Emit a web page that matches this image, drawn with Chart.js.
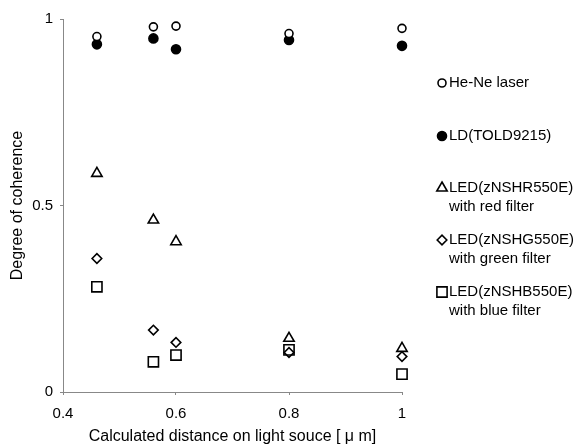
<!DOCTYPE html>
<html>
<head>
<meta charset="utf-8">
<script src="https://cdn.jsdelivr.net/npm/chart.js@4"></script>
<style>
    html, body { margin: 0; padding: 0; background: #fff; }
    #wrap { position: relative; width: 578px; height: 445px; }
</style>
</head>
<body>
<div id="wrap"><canvas id="myChart" width="578" height="445"></canvas></div>
<script>
// x positions (calculated distance on light source, um)
const distances = [0.46, 0.56, 0.6, 0.8, 1.0];

// degree of coherence for each light source
const heNe = [0.953, 0.979, 0.981, 0.961, 0.975];
const ld = [0.932, 0.948, 0.919, 0.944, 0.928];
const ledRed = [0.586, 0.461, 0.403, 0.144, 0.117];
const ledGreen = [0.358, 0.166, 0.133, 0.106, 0.095];
const ledBlue = [0.282, 0.081, 0.099, 0.113, 0.048];

const xTicks = [0.4, 0.6, 0.8, 1];
const yTicks = [0, 0.5, 1];

const legendNames = [
    ['He-Ne laser'],
    ['LD(TOLD9215)'],
    ['LED(zNSHR550E)', 'with red filter'],
    ['LED(zNSHG550E)', 'with green filter'],
    ['LED(zNSHB550E)', 'with blue filter']
];

const fontFamily = '"Liberation Sans", Arial, sans-serif';

function toPoints(values) {
    return values.map(function(v, i) {
        return { x: distances[i], y: v };
    });
}

function serie(label, values, style, radius, fill) {
    return {
        label: label,
        data: toPoints(values),
        pointStyle: style,
        pointRadius: radius,
        pointHoverRadius: radius,
        pointBorderWidth: 1.6,
        borderColor: '#000',
        backgroundColor: fill,
        showLine: false,
        clip: false
    };
}

const datasets = [
    serie(legendNames[0].join(' '), heNe, 'circle', 4, '#fff'),
    serie(legendNames[1].join(' '), ld, 'circle', 4.5, '#000'),
    serie(legendNames[2].join(' '), ledRed, 'triangle', 6, 'rgba(0,0,0,0)'),
    serie(legendNames[3].join(' '), ledGreen, 'rectRot', 4.8, 'rgba(0,0,0,0)'),
    serie(legendNames[4].join(' '), ledBlue, 'rect', 7.2, 'rgba(0,0,0,0)')
];

// legenda desenhada na lateral direita (rotulos com duas linhas)
const sideLegend = {
    id: 'sideLegend',
    afterDraw: function(chart) {
        const ctx = chart.ctx;
        const left = chart.chartArea.right + 40;
        const rows = [83, 136, 188, 240, 292];
        ctx.save();
        ctx.font = '15px ' + fontFamily;
        ctx.textBaseline = 'middle';
        chart.data.datasets.forEach(function(ds, i) {
            const y = rows[i];
            const opts = {
                pointStyle: ds.pointStyle,
                radius: ds.pointRadius,
                borderWidth: ds.pointBorderWidth,
                rotation: 0
            };
            ctx.strokeStyle = ds.borderColor;
            ctx.fillStyle = ds.backgroundColor;
            ctx.lineWidth = ds.pointBorderWidth;
            Chart.helpers.drawPoint(ctx, opts, left, y);
            ctx.fillStyle = '#000';
            legendNames[i].forEach(function(line, j) {
                ctx.fillText(line, left + 7, y + j * 19);
            });
        });
        ctx.restore();
    }
};

const ctx = document.getElementById('myChart').getContext('2d');
new Chart(ctx, {
    type: 'scatter',
    data: { datasets: datasets },
    options: {
        responsive: false,
        animation: false,
        layout: {
            padding: { top: 19, right: 176, bottom: 0, left: 0 }
        },
        plugins: {
            legend: { display: false },
            tooltip: { enabled: false }
        },
        scales: {
            x: {
                type: 'linear',
                min: 0.4,
                max: 1,
                afterBuildTicks: function(axis) {
                    axis.ticks = xTicks.map(function(v) { return { value: v }; });
                },
                afterFit: function(axis) {
                    axis.height = 53;
                },
                grid: { drawOnChartArea: false, drawTicks: true, tickLength: 3, color: '#888' },
                border: { color: '#888', width: 1 },
                ticks: {
                    color: '#000',
                    font: { size: 15, family: fontFamily },
                    padding: 10,
                    callback: function(v) { return String(v); }
                },
                title: {
                    display: true,
                    text: 'Calculated distance on light souce [ \u03bc m]',
                    color: '#000',
                    font: { size: 16, family: fontFamily, lineHeight: 1 },
                    padding: { top: 0, bottom: 0 }
                }
            },
            y: {
                type: 'linear',
                min: 0,
                max: 1,
                afterBuildTicks: function(axis) {
                    axis.ticks = yTicks.map(function(v) { return { value: v }; });
                },
                afterFit: function(axis) {
                    axis.width = 63;
                },
                grid: { drawOnChartArea: false, drawTicks: true, tickLength: 3, color: '#888' },
                border: { color: '#888', width: 1 },
                ticks: {
                    color: '#000',
                    font: { size: 15, family: fontFamily },
                    padding: 7,
                    callback: function(v) { return String(v); }
                },
                title: {
                    display: true,
                    text: 'Degree of coherence',
                    color: '#000',
                    font: { size: 16, family: fontFamily, lineHeight: 1 },
                    padding: { top: 10, bottom: 0 }
                }
            }
        }
    },
    plugins: [sideLegend]
});
</script>
</body>
</html>
